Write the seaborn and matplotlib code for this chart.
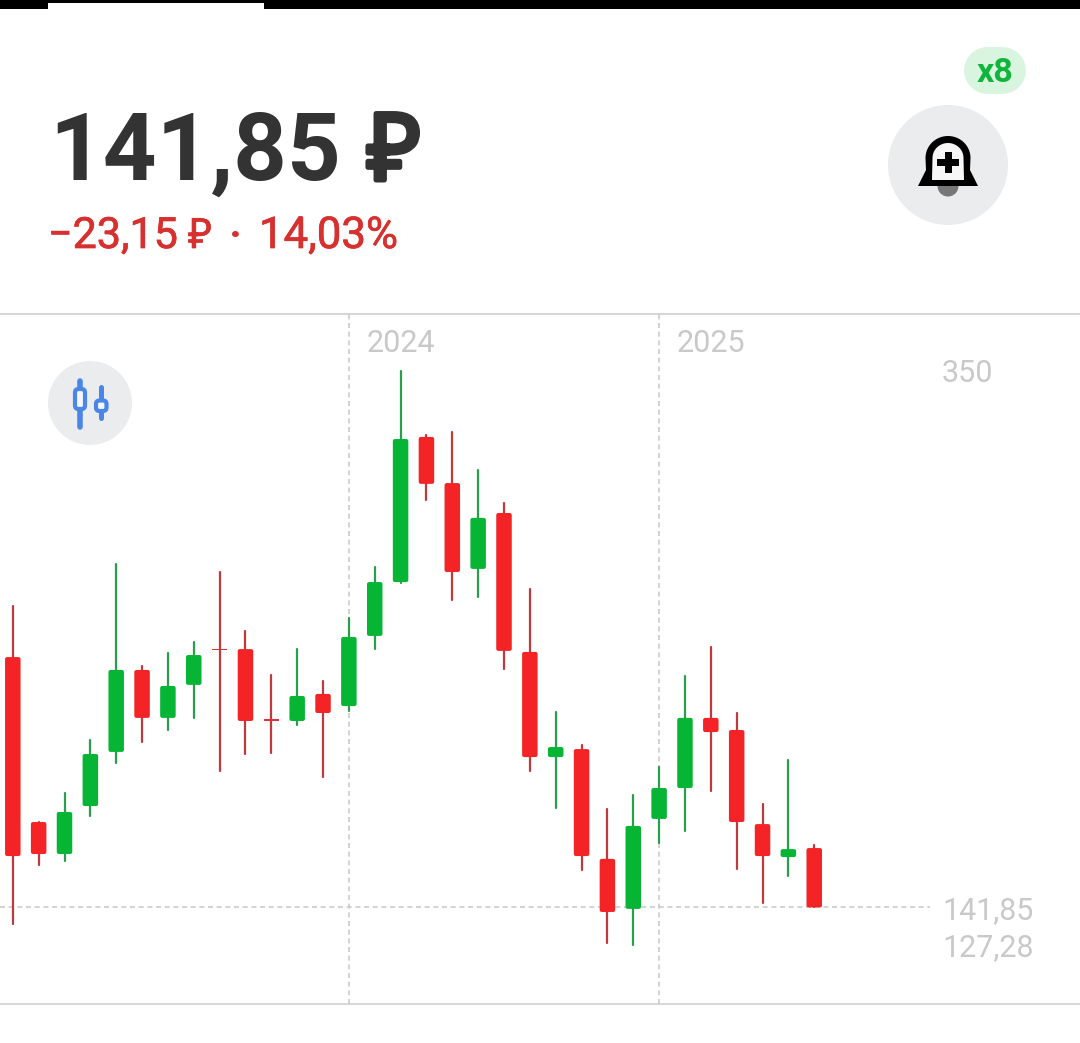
import numpy as np
import pandas as pd
import seaborn as sns
import matplotlib.pyplot as plt
import matplotlib.patheffects as pe
from matplotlib.patches import Circle, FancyBboxPatch, Polygon, Rectangle

# Candles (price in rubles)
opens = [239.0, 175.0, 162.6, 181.2, 202.2, 234.0, 215.4, 228.2, 242.1, 242.1, 214.8, 214.2,
         224.7, 220.0, 247.2, 268.1, 324.4, 306.5, 273.2, 294.9, 241.0, 200.2, 203.3, 160.7,
         141.3, 176.2, 188.2, 215.4, 210.7, 174.2, 161.4, 164.9]
closes = [161.8, 162.6, 178.9, 201.4, 234.0, 215.4, 227.8, 239.8, 241.6, 214.2, 214.3, 223.9,
          217.3, 246.8, 268.1, 323.6, 306.2, 272.0, 293.0, 241.4, 200.2, 204.1, 161.8, 140.1,
          173.5, 188.2, 215.4, 209.9, 175.0, 161.8, 164.5, 141.85]
highs = [258.8, 175.0, 186.3, 206.8, 275.1, 235.5, 240.6, 244.9, 272.0, 249.1, 232.0, 242.1,
         229.7, 254.2, 274.0, 350.0, 325.2, 326.3, 311.6, 298.8, 265.4, 217.7, 204.9, 180.1,
         185.5, 196.4, 231.7, 242.9, 217.3, 182.0, 199.1, 166.1]
lows = [135.4, 158.3, 159.9, 177.3, 197.9, 206.1, 210.7, 215.4, 194.8, 201.4, 201.8, 212.6,
        192.5, 218.1, 242.1, 267.7, 299.9, 261.1, 262.3, 234.4, 194.8, 180.4, 156.4, 128.1,
        127.28, 166.9, 171.5, 187.0, 156.8, 143.6, 154.1, 141.85]

year_labels = ["2024", "2025"]
year_starts = [13, 25]
price_labels = ["350", "141,85", "127,28"]
price_values = [350, 141.85, 127.28]

RED = "#f42426"
GREEN = "#07b535"
GREY = "#cccccc"
LABEL = "#c9c9c9"
BLUE = "#4a86e8"
ICON_BG = "#eaecee"
RUB_RED = "#d6302f"
DARK = "#333333"

sns.set_theme(style="white")
plt.rcParams["font.family"] = ["Roboto", "DejaVu Sans"]

df = pd.DataFrame({"open": opens, "close": closes, "high": highs, "low": lows})
df["i"] = df.index
df["kind"] = np.where(df["close"] >= df["open"], "up", "down")
df["size"] = (df["close"] - df["open"]).abs()

fig = plt.figure(figsize=(10.8, 10.43), dpi=100)
ax = fig.add_axes([0, 39 / 1043, 1, 690 / 1043])

# wicks
wicks = df.melt(id_vars=["i", "kind"], value_vars=["high", "low"], value_name="price")
sns.lineplot(data=wicks, x="i", y="price", units="i", estimator=None, hue="kind",
             palette={"up": "#2a9e4c", "down": "#bf3a3e"}, linewidth=1.6, legend=False,
             ax=ax, zorder=2)

# bodies, inset a little so the round edge brings them back to full size
EDGE_UNITS = 1.55
for kind, color in [("down", RED), ("up", GREEN)]:
    part = df[(df["kind"] == kind) & (df["size"] >= 1)]
    sns.barplot(x=part["i"].to_numpy(), y=(part["size"] - EDGE_UNITS).to_numpy(),
                bottom=part[["open", "close"]].min(axis=1).to_numpy() + EDGE_UNITS / 2,
                native_scale=True, width=0.445, color=color, saturation=1, errorbar=None,
                edgecolor=color, linewidth=2.88, joinstyle="round", snap=False, ax=ax, zorder=3)

# the two flat candles
flat = df[df["size"] < 1]
sns.barplot(x=flat["i"].to_numpy(), y=flat["size"].to_numpy(),
            bottom=flat[["open", "close"]].min(axis=1).to_numpy(),
            native_scale=True, width=0.3, color="#d8343a", saturation=1, errorbar=None,
            linewidth=0, ax=ax, zorder=3)

ax.set_xlim(-0.495, 41.28)
ax.set_ylim(104.4, 372.1)
ax.set_xticks([])
ax.set_yticks([])
ax.set_xlabel("")
ax.set_ylabel("")
for side in ["left", "right"]:
    ax.spines[side].set_visible(False)
for side in ["top", "bottom"]:
    ax.spines[side].set_color("#cfcfcf")
    ax.spines[side].set_linewidth(1.2)

dash = (0, (3, 2.2))
for x in year_starts:
    ax.axvline(x, color=GREY, lw=1.2, ls=dash, zorder=1)
ax.axhline(closes[-1], xmax=930 / 1080, color=GREY, lw=1.2, ls=dash, zorder=1)

for x, name in zip(year_starts, year_labels):
    ax.annotate(name, xy=(x, 1), xycoords=ax.get_xaxis_transform(), xytext=(12.5, -21),
                textcoords="offset points", color=LABEL, fontsize=22, va="center")
for v, name in zip(price_values, price_labels):
    ax.text(942 / 1080, v, name, transform=ax.get_yaxis_transform(), color=LABEL,
            fontsize=22, va="center_baseline")

# header and icons, laid out in pixels
top = fig.add_axes([0, 0, 1, 1], zorder=5)
top.set_xlim(0, 1080)
top.set_ylim(1043, 0)
top.axis("off")
top.patch.set_alpha(0)

top.add_patch(Rectangle((0, 0), 1080, 9, color="black", lw=0))
top.add_patch(Rectangle((48, 3), 216, 6, color="white", lw=0))

top.text(49, 180, "141,85", fontsize=67.5, fontweight="bold", color=DARK, va="baseline")
top.text(367, 180, "₽", fontsize=67, family=["Noto Sans", "DejaVu Sans"], color=DARK, va="baseline",
         path_effects=[pe.withStroke(linewidth=3.6, foreground=DARK)])

thin = [pe.withStroke(linewidth=0.5, foreground=RUB_RED)]
top.text(48, 248, "−23,15", fontsize=31, color=RUB_RED, va="baseline", path_effects=thin)
top.text(188, 248, "₽", fontsize=30, family=["Noto Sans", "DejaVu Sans"], color=RUB_RED, va="baseline",
         path_effects=thin)
top.text(235, 248, "·", fontsize=31, fontweight="bold", color=RUB_RED, va="baseline", ha="center")
top.text(259, 248, "14,03%", fontsize=31.5, color=RUB_RED, va="baseline", path_effects=thin)

# x8 badge
top.plot([987, 1002], [69.5, 69.5], color="#d9f5e0", lw=33.8, solid_capstyle="round")
top.text(995, 70, "x8", fontsize=24.5, fontweight="bold", color="#12b53c", ha="center",
         va="center_baseline")

# bell button
top.add_patch(Circle((948, 165), 60, fc=ICON_BG, ec="none"))
top.add_patch(Circle((948, 186), 10.5, fc="#777777", ec="none"))
t = np.linspace(np.pi, 0, 40)
dome = np.column_stack([948 + 22.5 * np.cos(t), 158 - 22 * np.sin(t)])
bell = np.vstack([[[918, 186]], [[926, 170]], dome, [[970, 170]], [[978, 186]]])
top.add_patch(Polygon(bell, fc="black", ec="none"))
inner = np.column_stack([948 + 15.5 * np.cos(t), 158 - 15 * np.sin(t)])
hollow = np.vstack([[[932, 180]], inner, [[964, 180]]])
top.add_patch(Polygon(hollow, fc="#f7f7f7", ec="none"))
top.add_patch(Rectangle((937, 159), 22, 7, fc="black", ec="none"))
top.add_patch(Rectangle((944.5, 152), 7, 21, fc="black", ec="none"))

# candle button
top.add_patch(Circle((90, 403), 42, fc=ICON_BG, ec="none"))
top.plot([80, 80], [381, 427], color=BLUE, lw=4, solid_capstyle="round")
top.plot([101, 101], [387, 418], color=BLUE, lw=3.6, solid_capstyle="round")
top.add_patch(FancyBboxPatch((75, 389), 10, 20, boxstyle="round,pad=0,rounding_size=3.5",
                             fc="#f4f6f9", ec=BLUE, lw=3.0, zorder=3))
top.add_patch(FancyBboxPatch((96, 400.5), 10.5, 10.5, boxstyle="round,pad=0,rounding_size=3.5",
                             fc="#f4f6f9", ec=BLUE, lw=3.0, zorder=3))

fig.savefig("out.png", dpi=100, facecolor="white")
